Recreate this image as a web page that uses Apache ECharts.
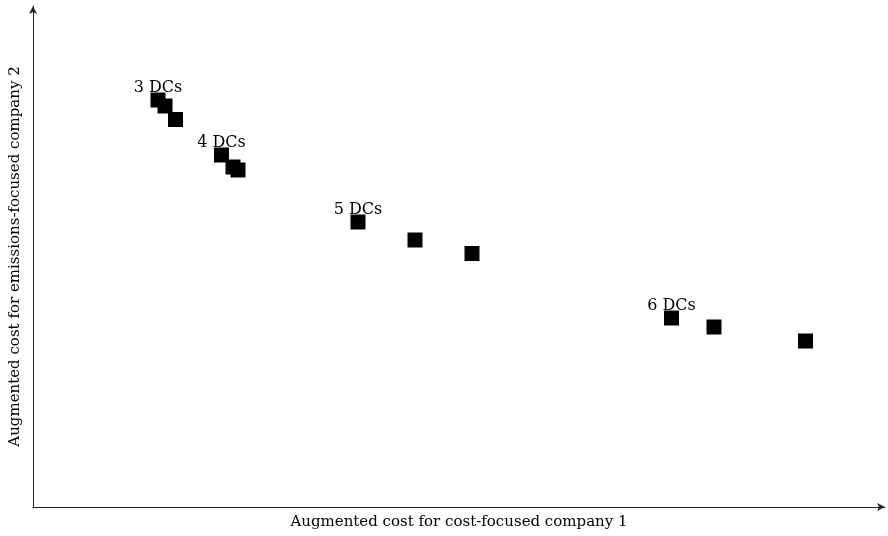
<!DOCTYPE html>
<html>
<head>
<meta charset="utf-8">
<script src="https://cdn.jsdelivr.net/npm/echarts@6/dist/echarts.min.js"></script>
<style>
  html, body { margin: 0; padding: 0; background: #fff; }
  #chart { width: 888px; height: 536px; }
</style>
</head>
<body>
<div id="chart"></div>
<script>
// groups of designs, one per number of DCs
const groups = ['3 DCs', '4 DCs', '5 DCs', '6 DCs'];
// augmented cost for company 1 (x) and company 2 (y), 3 points per group
const costCompany1 = [
  [125, 132, 142.5],
  [188.5, 200, 205],
  [325, 382, 439],
  [638.5, 681, 772.5]
];
const costCompany2 = [
  [407, 401, 387.5],
  [352, 340, 337],
  [285, 267, 253.5],
  [189, 180, 166]
];

const xMax = 852;
const yMax = 501;

const chart = echarts.init(document.getElementById('chart'));

// build points, label only on the first one of every group
let points = [];
groups.forEach((g, gi) => {
  costCompany1[gi].forEach((xv, i) => {
    let p = { value: [xv, costCompany2[gi][i]] };
    if (i == 0) {
      p.label = { show: true, formatter: g };
    }
    points.push(p);
  });
});

const axisFont = { fontFamily: 'DejaVu Serif', fontSize: 15, color: '#000' };

chart.setOption({
  animation: false,
  grid: { left: 33, right: 3, top: 6, bottom: 29, containLabel: false, outerBoundsMode: 'none' },
  xAxis: {
    type: 'value',
    min: 0,
    max: xMax,
    name: 'Augmented cost for cost-focused company 1',
    nameLocation: 'middle',
    nameGap: 8,
    nameTextStyle: axisFont,
    axisLine: { show: true, lineStyle: { color: '#222', width: 1 }, symbol: ['none', 'arrow'], symbolSize: [6, 8] },
    axisTick: { show: false },
    axisLabel: { show: false },
    splitLine: { show: false }
  },
  yAxis: {
    type: 'value',
    min: 0,
    max: yMax,
    name: 'Augmented cost for emissions-focused company 2',
    nameLocation: 'middle',
    nameGap: 10,
    nameTextStyle: axisFont,
    axisLine: { show: true, lineStyle: { color: '#222', width: 1 }, symbol: ['none', 'arrow'], symbolSize: [6, 8] },
    axisTick: { show: false },
    axisLabel: { show: false },
    splitLine: { show: false }
  },
  series: [{
    type: 'scatter',
    symbol: 'rect',
    symbolSize: 15,
    itemStyle: { color: '#000', opacity: 1 },
    label: {
      show: false,
      position: 'inside',
      offset: [0, -12],
      fontFamily: 'DejaVu Serif',
      fontSize: 16,
      color: '#000'
    },
    data: points
  }]
});
</script>
</body>
</html>
